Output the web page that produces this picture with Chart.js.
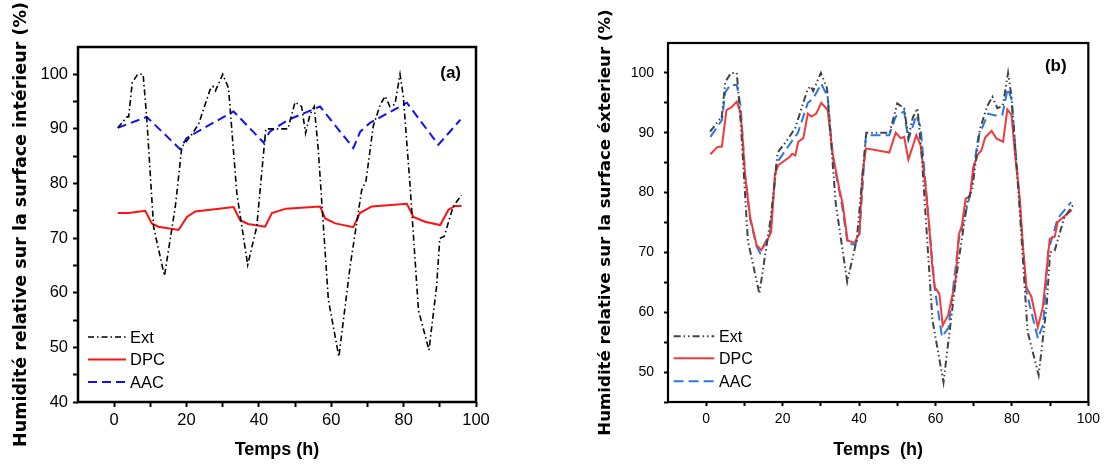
<!DOCTYPE html>
<html>
<head>
<meta charset="utf-8">
<script src="https://cdn.jsdelivr.net/npm/chart.js@4.4.1/dist/chart.umd.min.js"></script>
<style>
  html, body { margin: 0; padding: 0; background: #fff; }
  body { width: 1105px; height: 464px; position: relative; overflow: hidden; }
  canvas { position: absolute; top: 0; }
  #cA { left: 0; }
  #cB { left: 580px; }
</style>
</head>
<body>
<canvas id="cA" width="580" height="464"></canvas>
<canvas id="cB" width="525" height="464"></canvas>
<script>
// ---------- DATA ----------
// Outdoor relative humidity (shared by both panels)
const extHours = [1, 3.5, 4, 5, 6.5, 8, 9, 10.9, 13.9, 16.9, 18.7, 21, 23.3, 26.5, 27.3, 28, 30, 31.6, 33.9, 36.9, 39.4, 41.9, 44, 48, 50, 51.8, 52.9, 54.1, 55.3, 56.4, 59.2, 62.1, 65.2, 68.4, 69.6, 71.6, 73.5, 74.9, 76.2, 77.6, 79, 79.9, 81.8, 84.1, 87, 89.1, 90, 91.2, 93.7, 96];
const extValues = [90.2, 92.2, 92.2, 98.5, 100, 100, 92, 72, 63.1, 75.8, 86.7, 88.6, 90.8, 97.2, 97.8, 97, 100, 97.5, 78.2, 65.1, 72.1, 90, 90, 90, 94.9, 94.1, 89.2, 92.6, 94.1, 86.2, 58.7, 48.3, 64.8, 78.8, 80.5, 90.5, 94.4, 96, 94.1, 94.5, 100, 96, 79.4, 56.8, 49.5, 61.1, 70, 70.3, 75.8, 77.9];

// Panel (a): interior surface
const dpcHoursA = [1, 4, 8.6, 10.4, 12.2, 17.8, 20.1, 22.4, 33, 34.8, 37, 41.7, 43.6, 47.5, 56.9, 58.3, 61.1, 66.1, 67.9, 71.2, 80.9, 82.7, 85.9, 90.1, 92.4, 94.2, 96];
const dpcValuesA = [74.6, 74.6, 75.0, 72.7, 72.1, 71.5, 73.9, 74.9, 75.7, 73.3, 72.6, 72.1, 74.6, 75.4, 75.8, 73.6, 72.7, 72.0, 74.6, 75.8, 76.3, 73.9, 73.0, 72.4, 75.2, 75.9, 75.9];
const aacHoursA = [1, 9, 18.2, 20, 22.5, 33, 41.3, 43, 48.2, 56.9, 66.1, 68, 70.7, 80.9, 89.6, 95.7];
const aacValuesA = [90.2, 92.2, 86.3, 88.3, 89.3, 93.2, 87.5, 89.5, 91.7, 94.1, 86.5, 89.5, 91.1, 94.8, 87.1, 91.7];

// Panel (b): exterior surface
const dpcHoursB = [1.1, 2.9, 4.1, 5.3, 6.7, 8, 8.9, 9.3, 10.2, 11.5, 13.2, 14.4, 15.8, 17, 18, 18.9, 21.9, 22.5, 23.3, 24.1, 25.4, 26.6, 27.5, 28.8, 30.1, 31.8, 33.1, 34.9, 35.7, 37, 38.8, 40.1, 40.9, 41.8, 47.9, 49.6, 50.9, 51.8, 52.9, 55, 56.1, 57.4, 58.3, 59.1, 59.8, 61, 61.9, 63.3, 65.2, 66.1, 66.9, 67.9, 69, 69.9, 71.2, 72, 73, 74.7, 76, 77.7, 78.8, 79.9, 80.8, 82.1, 82.9, 83.8, 85.1, 86.8, 88.1, 89.9, 91.2, 92, 95.7];
const dpcValuesB = [86.4, 87.6, 87.7, 93.8, 94.3, 95.2, 93.5, 91.0, 82.6, 75.9, 71.2, 70.4, 71.8, 73.4, 83.2, 84.6, 86.0, 86.5, 86.2, 88.5, 89.1, 93.2, 92.7, 93.2, 95.0, 93.8, 86.5, 80.4, 78.2, 72.0, 71.6, 73.2, 83.2, 87.4, 86.7, 90.0, 89.1, 89.3, 85.5, 89.6, 87.9, 81.0, 74.8, 68.1, 64.2, 63.1, 57.8, 59.5, 65.1, 72.9, 74.5, 79.0, 79.3, 84.3, 86.5, 87.0, 89.2, 90.3, 89.0, 88.5, 93.9, 93.0, 86.5, 78.7, 70.9, 64.2, 62.6, 57.5, 60.9, 72.3, 72.6, 75.1, 77.1];
const aacHoursB = [1.1, 4.1, 5, 6.3, 8, 9, 10.2, 11.5, 13.2, 14.1, 16.7, 18.4, 21, 24, 26.6, 28, 30.1, 31.8, 33.1, 35.5, 37, 39, 40.1, 41.8, 47.9, 49.6, 51.8, 52.9, 55, 56.1, 57.4, 59.8, 61.7, 63.4, 66.1, 69, 71.2, 73.8, 75.6, 77.5, 78.9, 79.9, 81.6, 83.8, 86.8, 88.2, 89.5, 92, 95.5];
const aacValuesB = [89.3, 92.1, 96.8, 98.0, 98.0, 94.5, 83, 75.5, 71, 69.9, 73.2, 84.9, 87.3, 90, 95, 95.7, 98.2, 96, 86, 78, 71.5, 71.3, 73, 89.6, 89.6, 92.7, 93.6, 88.8, 92.9, 91, 81.5, 64, 55.9, 57.4, 72.1, 79.5, 89.3, 93.2, 92.9, 93.0, 97.4, 95.6, 82, 63.5, 55.6, 58, 70.2, 75.7, 78.4];

const seriesLabels = ['Ext', 'DPC', 'AAC'];
const xTickLabels = [0, 20, 40, 60, 80, 100];
const yTickLabelsA = [40, 50, 60, 70, 80, 90, 100];
const yTickLabelsB = [50, 60, 70, 80, 90, 100];

// ---------- HELPERS ----------
const pts = (xs, ys) => xs.map((x, i) => ({ x: x, y: ys[i] }));

const panelPlugin = {
  id: 'panelDeco',
  afterDatasetsDraw(chart, args, o) {
    const ctx = chart.ctx, a = chart.chartArea;
    ctx.save();
    // frame
    ctx.strokeStyle = '#000';
    ctx.lineWidth = o.frameWidth;
    ctx.setLineDash([]);
    ctx.strokeRect(a.left, a.top, a.right - a.left, a.bottom - a.top);
    // in-plot legend
    chart.data.datasets.forEach((ds, i) => {
      const y = a.bottom - o.legendRows[i];
      ctx.beginPath();
      ctx.strokeStyle = ds.borderColor;
      ctx.lineWidth = ds.borderWidth;
      ctx.setLineDash(ds.borderDash || []);
      ctx.moveTo(a.left + o.legendX0, y);
      ctx.lineTo(a.left + o.legendX1, y);
      ctx.stroke();
      ctx.setLineDash([]);
      ctx.fillStyle = '#000';
      ctx.font = o.legendFont;
      ctx.textAlign = 'left';
      ctx.textBaseline = 'middle';
      ctx.fillText(ds.label, a.left + o.legendTextX, y + 1);
    });
    // panel tag
    ctx.font = o.tagFont;
    ctx.textAlign = 'right';
    ctx.textBaseline = 'middle';
    ctx.fillStyle = '#000';
    ctx.fillText(o.tag, a.right - o.tagDx, a.top + o.tagDy);
    ctx.restore();
  }
};

function makeChart(id, cfg) {
  const majX = v => xTickLabels.includes(v);
  const majY = v => cfg.yLabels.includes(v);
  return new Chart(document.getElementById(id), {
    type: 'line',
    data: {
      datasets: [
        { label: seriesLabels[0], data: pts(extHours, extValues), borderColor: cfg.colors[0], borderWidth: cfg.widths[0], borderDash: cfg.dashes[0], pointRadius: 0, tension: 0, fill: false },
        { label: seriesLabels[1], data: pts(cfg.dpcH, cfg.dpcV), borderColor: cfg.colors[1], borderWidth: cfg.widths[1], borderDash: cfg.dashes[1], pointRadius: 0, tension: 0, fill: false },
        { label: seriesLabels[2], data: pts(cfg.aacH, cfg.aacV), borderColor: cfg.colors[2], borderWidth: cfg.widths[2], borderDash: cfg.dashes[2], pointRadius: 0, tension: 0, fill: false }
      ]
    },
    options: {
      responsive: false,
      animation: false,
      devicePixelRatio: 1,
      layout: { padding: cfg.padding },
      plugins: {
        legend: { display: false },
        tooltip: { enabled: false },
        panelDeco: cfg.deco
      },
      scales: {
        x: {
          type: 'linear', min: -10, max: 100,
          border: { display: false },
          grid: { drawOnChartArea: false, drawTicks: true, tickLength: cfg.tickLen, tickWidth: cfg.tickWidth,
                  tickColor: c => (c.tick && c.tick.value === -10) ? 'rgba(0,0,0,0)' : '#000' },
          ticks: { stepSize: 10, autoSkip: false, maxRotation: 0, padding: cfg.xPad, color: '#000',
                   font: { family: 'Liberation Sans, Arial, sans-serif', size: cfg.tickSize },
                   callback: v => majX(v) ? String(v) : '' },
          title: { display: true, text: cfg.xTitle, color: '#000',
                   font: { family: 'Liberation Sans, Arial, sans-serif', size: 18, weight: 'bold' },
                   padding: { top: 0, bottom: 3 } },
          afterFit: s => { s.height = cfg.xHeight; }
        },
        y: {
          type: 'linear', min: cfg.yMin, max: 105,
          border: { display: false },
          grid: { drawOnChartArea: false, drawTicks: true, tickLength: cfg.tickLen, tickWidth: cfg.tickWidth,
                  tickColor: c => (c.tick && c.tick.value === 105) ? 'rgba(0,0,0,0)' : '#000' },
          ticks: { stepSize: 5, autoSkip: false, padding: cfg.yPad, color: '#000',
                   font: { family: 'Liberation Sans, Arial, sans-serif', size: cfg.tickSize },
                   callback: v => majY(v) ? String(v) : '' },
          title: { display: true, text: cfg.yTitle, color: '#000',
                   font: { family: 'DejaVu Sans, sans-serif', size: cfg.yTitleSize, weight: 'bold' },
                   padding: { top: cfg.yTitlePad, bottom: 0 } },
          afterFit: s => { s.width = cfg.yWidth; }
        }
      }
    },
    plugins: [panelPlugin]
  });
}

makeChart('cA', {
  dpcH: dpcHoursA, dpcV: dpcValuesA, aacH: aacHoursA, aacV: aacValuesA,
  colors: ['#000000', '#ff1010', '#1010ff'],
  widths: [1.6, 2, 2],
  dashes: [[6, 3, 1.5, 3], [], [9, 5]],
  yMin: 40, yLabels: yTickLabelsA,
  padding: { left: 0, top: 47, right: 104, bottom: 0 },
  yWidth: 78, xHeight: 62,
  tickLen: 5, tickWidth: 2, tickSize: 16.5, xPad: 4, yPad: 5,
  xTitle: 'Temps (h)',
  yTitle: 'Humidité relative sur la surface intérieur (%)',
  yTitleSize: 17.5, yTitlePad: 10.5,
  deco: { frameWidth: 2.5, legendRows: [65, 42.5, 20], legendX0: 10, legendX1: 48, legendTextX: 52,
          legendFont: '16.5px "Liberation Sans", Arial, sans-serif',
          tag: '(a)', tagDx: 15, tagDy: 26, tagFont: 'bold 17px "Liberation Sans", Arial, sans-serif' }
});

makeChart('cB', {
  dpcH: dpcHoursB, dpcV: dpcValuesB, aacH: aacHoursB, aacV: aacValuesB,
  colors: ['#444444', '#f23a3a', '#2679e6'],
  widths: [2, 2, 2],
  dashes: [[7, 3, 1.5, 3, 1.5, 3], [], [10, 5]],
  yMin: 45, yLabels: yTickLabelsB,
  padding: { left: 0, top: 43, right: 14, bottom: 0 },
  yWidth: 88, xHeight: 62,
  tickLen: 4, tickWidth: 2, tickSize: 14, xPad: 5, yPad: 10,
  xTitle: 'Temps  (h)',
  yTitle: 'Humidité relative sur la surface éxterieur (%)',
  yTitleSize: 16.6, yTitlePad: 16,
  deco: { frameWidth: 2.2, legendRows: [65.7, 43.7, 20.7], legendX0: 5.6, legendX1: 46.3, legendTextX: 51,
          legendFont: '16px "Liberation Sans", Arial, sans-serif',
          tag: '(b)', tagDx: 21.7, tagDy: 23.4, tagFont: 'bold 17px "Liberation Sans", Arial, sans-serif' }
});
</script>
</body>
</html>
